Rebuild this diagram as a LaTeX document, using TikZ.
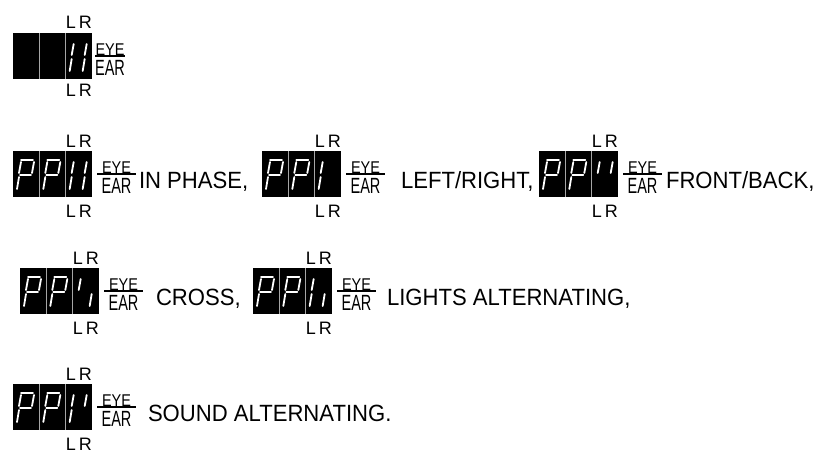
\documentclass[tikz,border=0pt]{standalone}
\usepackage{fontspec}
\setmainfont{Liberation Sans}
\newfontfamily\modefont{Liberation Sans}[FakeStretch=0.94]
\usetikzlibrary{positioning}

\tikzset{every node/.style={inner sep=0pt, outer sep=0pt}}

\begin{document}
\begin{tikzpicture}[x=1pt, y=-1pt,
			display/.style={rectangle, fill=black, minimum width=79pt, minimum height=46pt, anchor=north west},
			cellline/.style={draw=gray!70, line width=0.6pt},
			seg/.style={white, line width=1.8pt, line cap=round},
			fracline/.style={black, line width=1.6pt},
			lr/.style={font=\fontsize{18}{18}\selectfont},
			eye/.style={font=\fontsize{17}{17}\selectfont, anchor=south},
			ear/.style={font=\fontsize{22}{22}\selectfont, anchor=north},
			mode/.style={font=\modefont\fontsize{23.5}{23.5}\selectfont, anchor=base west},
			% the seven segments of one cell
			pics/sa/.style={code={\draw[seg] (8,9) -- (20,9);}},
			pics/sb/.style={code={\draw[seg] (21,11) -- (19,22);}},
			pics/sc/.style={code={\draw[seg] (19,26) -- (17,38);}},
			pics/sd/.style={code={\draw[seg] (4,40) -- (16,40);}},
			pics/se/.style={code={\draw[seg] (6,26) -- (4,38);}},
			pics/sf/.style={code={\draw[seg] (8,11) -- (6,22);}},
			pics/sg/.style={code={\draw[seg] (7,24) -- (18,24);}},
			pics/digitP/.style={code={\pic {sa}; \pic {sb}; \pic {sf}; \pic {sg}; \pic {se};}},
			]
			
			\useasboundingbox (0,0) rectangle (820,453);
			
			% Top display, first two cells dark
			\node[display] (d0) at (13,33) {};
			\draw[cellline] ([xshift=26.3pt]d0.north west) -- ([xshift=26.3pt]d0.south west);
			\draw[cellline] ([xshift=52.7pt]d0.north west) -- ([xshift=52.7pt]d0.south west);
			\foreach \s in {f,e,b,c} {
				\pic at (65.7,33) {s\s};
			}
			\node[lr, anchor=base east] (lrt0) at ([yshift=5pt]d0.north east) {L\hspace{3pt}R};
			\node[lr, anchor=north east] (lrb0) at ([yshift=-5pt]d0.south east) {L\hspace{3pt}R};
			\coordinate (fl0) at ([xshift=3pt]d0.east);
			\coordinate (fr0) at ([xshift=33pt]d0.east);
			\draw[fracline] (fl0) -- (fr0);
			\node[eye] (eye0) at ([xshift=18pt, yshift=1pt]d0.east) {\scalebox{0.85}[1]{EYE}};
			\node[ear] (ear0) at ([xshift=18pt, yshift=-4pt]d0.east) {\scalebox{0.66}[1]{EAR}};
			
			% The six modes: number/x/y/third cell/text offset/text
			\foreach \n/\x/\y/\segs/\tx/\txt in {
				1/13/151/{f,e,b,c}/47pt/{IN PHASE,},
				2/262/151/{f,e}/60pt/{LEFT/RIGHT,},
				3/539/151/{f,b}/48pt/{FRONT/BACK,},
				4/20/268/{f,c}/57pt/{CROSS,},
				5/253/268/{f,e,c}/55pt/{LIGHTS ALTERNATING,},
				6/13/384/{f,e,b}/56pt/{SOUND ALTERNATING.}} {
				\node[display] (d\n) at (\x,\y) {};
				\draw[cellline] ([xshift=26.3pt]d\n.north west) -- ([xshift=26.3pt]d\n.south west);
				\draw[cellline] ([xshift=52.7pt]d\n.north west) -- ([xshift=52.7pt]d\n.south west);
				\pic at (\x,\y) {digitP};
				\pic at (\x+26.3,\y) {digitP};
				\foreach \s in \segs {
					\pic at (\x+52.7,\y) {s\s};
				}
				\node[lr, anchor=base east] (lrt\n) at ([yshift=4pt]d\n.north east) {L\hspace{3pt}R};
				\node[lr, anchor=north east] (lrb\n) at ([yshift=-8pt]d\n.south east) {L\hspace{3pt}R};
				\coordinate (fl\n) at ([xshift=5pt]d\n.east);
				\coordinate (fr\n) at ([xshift=44pt]d\n.east);
				\draw[fracline] (fl\n) -- (fr\n);
				\node[eye] (eye\n) at ([xshift=24.5pt, yshift=1pt]d\n.east) {\scalebox{0.85}[1]{EYE}};
				\node[ear] (ear\n) at ([xshift=24.5pt, yshift=-4pt]d\n.east) {\scalebox{0.66}[1]{EAR}};
				\node[mode] (m\n) at ([xshift=\tx, yshift=-14pt]d\n.east) {\txt};
			}
			
		\end{tikzpicture}
\end{document}
